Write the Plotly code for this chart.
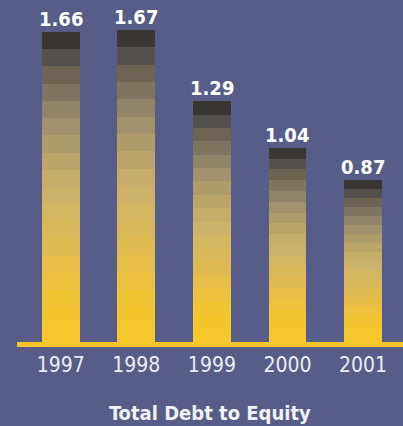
import plotly.graph_objects as go

years = ["1997", "1998", "1999", "2000", "2001"]
ratios = [1.66, 1.67, 1.29, 1.04, 0.87]
labels = ["1.66", "1.67", "1.29", "1.04", "0.87"]
title_text = "Total Debt to Equity"

# gradient bands, bottom (yellow) to top (dark)
band_colors = [
    "#f5c72a", "#f4c62e", "#f1c434", "#edc13d", "#e6bd47", "#dfba51",
    "#d9b85a", "#d4b661", "#cdb26a", "#c6ad6a", "#bba568", "#ae9c6a",
    "#a0926c", "#908566", "#7e7560", "#6c6352", "#54504b", "#3a3633",
]

BG = "#585c89"
FONT = "DejaVu Sans Condensed"
n = len(band_colors)

fig = go.Figure()
for c in band_colors:
    fig.add_trace(go.Bar(
        x=years, y=[v / n for v in ratios],
        marker=dict(color=c, line=dict(width=0)),
        hoverinfo="skip", showlegend=False,
    ))

for i, (v, t) in enumerate(zip(ratios, labels)):
    fig.add_annotation(
        x=i, y=v, text="<b>" + t + "</b>", showarrow=False, yanchor="bottom", yshift=-1,
        font=dict(family=FONT, size=20, color="white"),
    )

fig.add_annotation(
    x=0.5, xref="paper", y=-0.214, yref="paper", yanchor="middle",
    text="<b>" + title_text + "</b>", showarrow=False,
    font=dict(family=FONT, size=20, color="#f2f2f6"),
)

fig.update_layout(
    width=403, height=426,
    barmode="stack", bargap=0.5,
    paper_bgcolor=BG, plot_bgcolor=BG,
    margin=dict(l=17, r=0, t=10, b=84),
    xaxis=dict(
        type="category",
        range=[-0.58, 4.53], showgrid=False, zeroline=False,
        showline=True, linecolor="#f5c52a", linewidth=5,
        ticks="", ticklabelstandoff=0,
        tickfont=dict(family=FONT, size=21, color="#ececf2"),
    ),
    yaxis=dict(range=[0, 1.778], visible=False, showgrid=False, zeroline=False),
)

fig.write_html("out.html", config={"displayModeBar": False},
               post_script="document.body.style.margin='0'")
